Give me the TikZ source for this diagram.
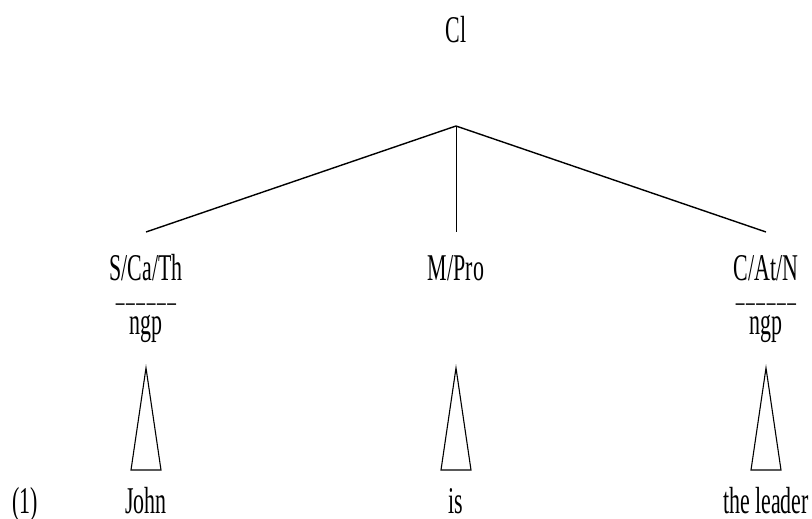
\documentclass[tikz,border=0pt]{standalone}
\usepackage{fontspec}
\setmainfont{Liberation Serif}[FakeStretch=0.58]
\usepackage{tikz}
\usetikzlibrary{positioning}

\newcommand{\ruledash}{\_\hspace{1.6pt}\_\hspace{1.6pt}\_\hspace{1.6pt}\_\hspace{1.6pt}\_\hspace{1.6pt}\_}

\begin{document}
\begin{tikzpicture}[
  x=1pt, y=-1pt,
  every node/.style={font=\fontsize{37.8}{40}\selectfont, inner sep=0pt, anchor=base},
  bar/.style={font=\fontsize{30}{32}\selectfont},
  branch/.style={line width=1.4pt},
  stem/.style={line width=0.9pt},
  tri/.style={line width=1.1pt}
]
\useasboundingbox (0,0) rectangle (812,519);

%% ---- ROOT ------------------------------------------------------
\node (cl) at (456,43) {Cl};
\coordinate (top) at (456,126);

%% ---- FUNCTION LABELS (y=280) -----------------------------------
\node (scath) at (146,280) {S/Ca/Th};
\node (mpro)  at (456,280) {M/Pro};
\node (catn)  at (766,280) {C/At/N};

\coordinate (scathtop) at (146,232);
\coordinate (mprotop)  at (456,232);
\coordinate (catntop)  at (766,232);

\draw[branch] (top) -- (scathtop);
\draw[stem]   (top) -- (mprotop);
\draw[branch] (top) -- (catntop);

%% ---- CLASS LABELS ----------------------------------------------
\node[bar] (barl) at (146,301) {\ruledash};
\node (ngpl) at (146,334) {ngp};
\node[bar] (barr) at (766,301) {\ruledash};
\node (ngpr) at (766,334) {ngp};

%% ---- TRIANGLES -------------------------------------------------
\draw[tri] (146,368) -- (131,470) -- (161,470) -- cycle;
\draw[tri] (456,368) -- (441,470) -- (471,470) -- cycle;
\draw[tri] (766,368) -- (751,470) -- (781,470) -- cycle;

%% ---- WORDS (y=513) ---------------------------------------------
\node (num)    at (25,513)  {(1)};
\node (john)   at (146,513) {John};
\node (is)     at (456,513) {is};
\node (leader) at (766,513) {the leader};

\end{tikzpicture}
\end{document}
